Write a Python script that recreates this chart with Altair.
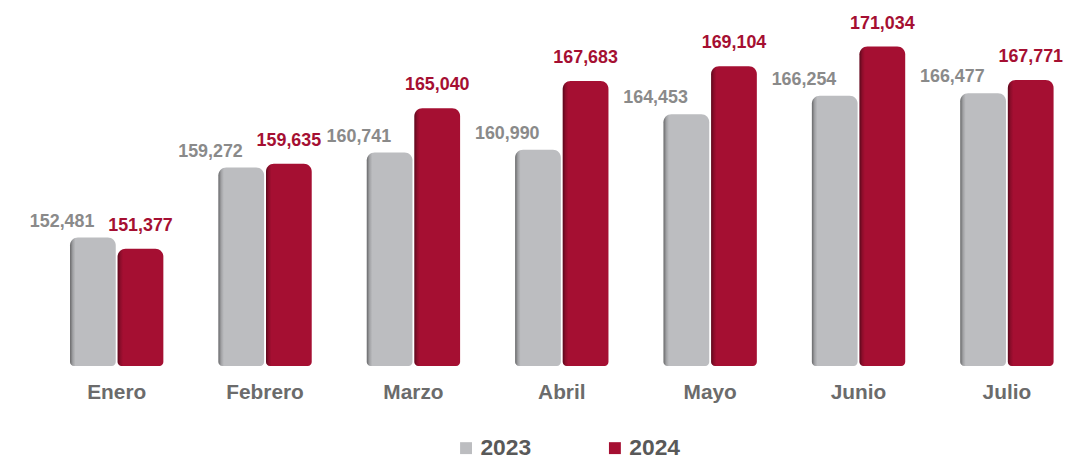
import altair as alt
import pandas as pd

months = ["Enero", "Febrero", "Marzo", "Abril", "Mayo", "Junio", "Julio"]
years = ["2023", "2024"]
sales_2023 = [152481, 159272, 160741, 160990, 164453, 166254, 166477]
sales_2024 = [151377, 159635, 165040, 167683, 169104, 171034, 167771]

rows = []
for m, v in zip(months, sales_2023):
    rows.append({"mes": m, "anio": "2023", "valor": v})
for m, v in zip(months, sales_2024):
    rows.append({"mes": m, "anio": "2024", "valor": v})
df = pd.DataFrame(rows)
df["label"] = df["valor"].map(lambda v: f"{v:,}")

FONT = "Liberation Sans"

x = alt.X(
    "mes:N",
    sort=months,
    scale=alt.Scale(range=[62.5, 1053.5], paddingInner=0.371, paddingOuter=0),
    axis=alt.Axis(
        title=None, labelFontSize=21, labelFontWeight="bold", labelColor="#6b6b6b",
        labelPadding=16, domain=False, ticks=False, labelAngle=0, labelFont=FONT,
    ),
)
xo = alt.XOffset("anio:N", sort=years, scale=alt.Scale(paddingInner=0.04, paddingOuter=0))
y = alt.Y("valor:Q", scale=alt.Scale(domain=[140000, 174600], zero=False, nice=False), axis=None)
y2 = alt.Y2(datum=140000)

radius = dict(cornerRadiusTopLeft=8, cornerRadiusTopRight=8,
              cornerRadiusBottomLeft=4, cornerRadiusBottomRight=4)

bars = alt.Chart(df).mark_bar(**radius).encode(
    x=x, xOffset=xo, y=y, y2=y2,
    color=alt.Color(
        "anio:N",
        scale=alt.Scale(domain=years, range=["#bcbdc0", "#a50f32"]),
        legend=alt.Legend(
            title=None, orient="none", legendX=450, legendY=430, direction="horizontal",
            symbolType="square", symbolSize=144, symbolStrokeWidth=0,
            labelFontSize=23, labelFontWeight="bold", labelColor="#595959", labelFont=FONT,
            columnPadding=72, labelOffset=3, padding=0,
        ),
    ),
)

shade = alt.Chart(df).mark_bar(
    fill=alt.LinearGradient(
        gradient="linear",
        stops=[
            alt.GradientStop(color="rgba(0,0,0,0.45)", offset=0),
            alt.GradientStop(color="rgba(0,0,0,0.15)", offset=0.06),
            alt.GradientStop(color="rgba(0,0,0,0)", offset=0.12),
        ],
        x1=0, x2=1, y1=0, y2=0,
    ),
    **radius,
).encode(x=x, xOffset=xo, y=y, y2=y2)

labels_2023 = alt.Chart(df).transform_filter("datum.anio == '2023'").mark_text(
    dx=-31, dy=-7, baseline="bottom", fontSize=18, fontWeight="bold",
    color="#8a8a8a", font=FONT,
).encode(x=x, xOffset=xo, y=y, text="label:N")

labels_2024 = alt.Chart(df).transform_filter("datum.anio == '2024'").mark_text(
    dx=0, dy=-14, baseline="bottom", fontSize=18, fontWeight="bold",
    color="#a50f32", font=FONT,
).encode(x=x, xOffset=xo, y=y, text="label:N")

chart = alt.layer(bars, shade, labels_2023, labels_2024).properties(
    width=1056, height=359, padding=0
).configure_view(stroke=None)

chart.save("out.html", embed_options={"renderer": "svg", "actions": False})
